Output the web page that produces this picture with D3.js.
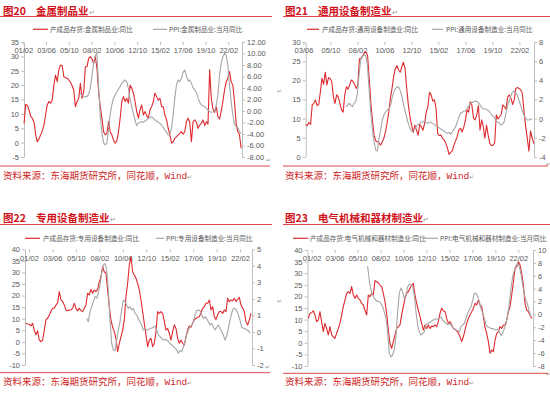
<!DOCTYPE html>
<html>
<head>
<meta charset="utf-8">
<script src="https://cdn.jsdelivr.net/npm/d3@7"></script>
<style>
    body { margin: 0; background: #fff; }
    svg { display: block; font-family: "Noto Sans CJK SC", "Noto Sans", sans-serif; }
</style>
</head>
<body>
<svg id="chart" width="550" height="394"></svg>
<script>
(function () {
    'use strict';

    // x tick labels (yy/mm), one every 28 months
    const xTickLabels = ['01/02', '03/06', '05/10', '08/02', '10/06', '12/10', '15/02', '17/06', '19/10', '22/02'];

    // y ticks
    const metalLeftTicks = [-5, 0, 5, 10, 15, 20, 25, 30, 35];
    const metalRightTicks = [-8, -6, -4, -2, 0, 2, 4, 6, 8, 10, 12];
    const generalLeftTicks = [0, 5, 10, 15, 20, 25, 30];
    const generalRightTicks = [-4, -2, 0, 2, 4, 6, 8];
    const specialLeftTicks = [-10, -5, 0, 5, 10, 15, 20, 25, 30, 35, 40];
    const specialRightTicks = [-2, -1, 0, 1, 2, 3, 4, 5];
    const electricLeftTicks = [-10, -5, 0, 5, 10, 15, 20, 25, 30, 35, 40];
    const electricRightTicks = [-8, -6, -4, -2, 0, 2, 4, 6, 8, 10];

    // first / last month of each series, as decimal years
    const metalInvSpan = [2001.16, 2023.40];
    const metalPpiSpan = [2006.92, 2023.40];
    const generalInvSpan = [2003.61, 2023.33];
    const generalPpiSpan = [2007.07, 2023.20];
    const specialInvSpan = [2000.78, 2023.17];
    const specialPpiSpan = [2006.82, 2023.07];
    const electricInvSpan = [2000.74, 2023.45];
    const electricPpiSpan = [2006.77, 2023.38];

    // 产成品存货 同比 (%), evenly spaced over the span
    const metalInvValues = [6.7, 13.3, 12.9, 11.4, 9.1, 8.5, 7.1, 2.9, 0.3, 1.3, 2.7, 4.1, 6.1, 9.6, 13.1, 14.3, 13.7, 14.8, 20.0, 23.5,
        21.2, 25.3, 27.0, 26.8, 22.9, 22.6, 22.4, 21.8, 21.0, 19.8, 18.3, 12.5, 14.3, 15.4, 20.6, 15.4, 17.7, 26.4, 26.4, 29.3,
        29.9, 29.1, 27.6, 29.9, 25.8, 17.7, 12.5, 8.5, 3.8, 2.7, 3.2, 7.3, 3.8, 2.7, 0.9, -0.2, 0.6, 3.8, 8.5, 14.3,
        16.0, 14.3, 15.4, 13.7, 20.0, 18.9, 17.2, 14.3, 10.8, 8.5, 11.4, 13.1, 9.6, 10.8, 9.4, 8.5, 11.4, 12.5, 14.3, 17.2,
        16.0, 14.8, 15.4, 12.5, 12.5, 9.6, 7.9, 5.0, 2.7, -0.2, 0.3, 1.5, 2.1, 2.7, 3.2, 3.8, 2.9, 3.8, 7.3, 8.5,
        7.1, 0.3, 7.3, 7.9, 7.1, 5.0, 6.1, 6.7, 7.9, 5.9, 7.3, 6.4, 25.3, 15.4, 11.7, 10.5, 12.5, 9.0, 8.2, 11.0,
        14.3, 18.3, 21.2, 22.4, 24.7, 21.2, 20.0, 14.3, 6.7, 3.8, 2.7, -2.0];
    const generalInvValues = [8.4, 8.2, 9.0, 8.5, 13.6, 14.0, 14.9, 13.4, 13.7, 17.0, 20.5, 19.0, 22.1, 18.8, 20.7, 20.5, 19.7, 15.7, 14.0, 16.2,
        15.7, 14.0, 12.3, 11.7, 16.3, 18.3, 17.7, 18.8, 20.1, 19.7, 19.0, 17.9, 18.8, 25.6, 25.7, 26.4, 27.0, 27.5, 26.4, 20.5,
        14.0, 9.4, 5.7, 4.2, 4.0, 3.6, 3.1, 4.0, 4.9, 6.6, 9.0, 11.8, 15.3, 17.9, 21.0, 23.1, 23.8, 22.7, 22.1, 23.6,
        24.7, 23.1, 17.9, 13.6, 10.5, 8.3, 6.4, 8.3, 7.0, 5.7, 8.5, 7.9, 7.0, 8.8, 11.7, 13.1, 16.9, 16.2, 14.6, 14.9,
        12.7, 6.2, 5.6, 5.7, 4.9, 4.4, 3.6, 2.3, 0.7, 1.2, 1.6, 3.1, 4.2, 5.3, 7.0, 7.5, 6.6, 7.7, 9.4, 12.3,
        11.7, 14.4, 13.6, 10.1, 9.7, 11.0, 13.4, 7.0, 9.7, 7.9, 4.9, 8.3, 5.7, 3.6, 3.0, 3.1, 3.6, 11.0, 9.9, 10.5,
        11.1, 13.6, 13.1, 12.5, 15.7, 16.2, 15.3, 13.7, 14.9, 17.9, 18.1, 17.9, 17.5, 16.6, 12.0, 8.0, 5.0, 1.5, 6.8, 5.0, 3.5];
    const specialInvValues = [8.0, 7.7, 7.6, 6.9, 8.0, 5.1, 3.0, 4.8, 0.8, 0.1, 0.8, 5.1, 9.5, 10.2, 11.6, 13.1, 14.5, 14.5, 15.9, 16.9,
        21.7, 18.1, 17.4, 15.9, 13.8, 13.5, 13.8, 13.8, 14.5, 16.7, 14.5, 13.5, 14.5, 13.5, 13.1, 14.5, 15.9, 21.0, 20.3, 22.7,
        21.0, 22.4, 21.7, 22.7, 26.0, 28.2, 32.5, 30.3, 29.6, 22.4, 15.2, 9.5, 6.3, 4.4, 1.5, -4.2, -0.6, 2.2, 5.1, 9.5,
        19.5, 25.3, 33.2, 36.8, 30.3, 28.9, 27.5, 25.3, 22.4, 18.1, 13.1, 8.0, 3.0, -2.1, 0.8, 1.5, -2.1, -0.6, 4.4, 13.1,
        12.3, 13.1, 12.3, 8.7, 5.1, 5.8, 3.7, 0.8, 4.4, 7.3, 5.8, 1.5, -0.6, 0.8, -0.6, -1.4, 2.2, 5.1, 6.9, 6.3,
        8.0, 9.5, 10.2, 10.6, 10.9, 12.6, 14.5, 15.2, 16.7, 16.7, 18.1, 13.8, 15.2, 10.9, 9.7, 11.6, 13.1, 13.1, 12.3, 13.8,
        13.1, 18.8, 17.4, 18.1, 17.8, 18.8, 17.4, 18.4, 19.2, 15.9, 14.5, 13.1, 8.7, 7.3, 9.5, 12.3];
    const electricInvValues = [10.5, 12.7, 13.0, 13.8, 12.0, 9.1, 9.8, 13.4, 9.1, 4.8, 8.4, 6.2, 3.4, 7.0, 3.4, 2.6, 1.9, 4.1, 6.2, 8.4,
        12.0, 15.6, 18.4, 21.3, 22.0, 21.3, 24.2, 20.6, 19.2, 20.6, 19.2, 18.4, 17.0, 16.3, 14.1, 12.0, 20.6, 19.9, 21.3, 20.6,
        26.8, 26.3, 25.9, 24.9, 24.2, 21.3, 17.7, 12.7, 5.5, -0.2, -2.4, 0.5, 3.4, 6.2, 7.0, 7.7, 12.0, 15.6, 19.2, 21.3,
        22.0, 23.5, 24.9, 25.6, 20.6, 17.0, 14.1, 11.3, 8.4, 5.5, 7.7, 6.2, 7.7, 6.2, 7.2, 7.0, 7.7, 7.0, 9.1, 12.7,
        14.9, 13.8, 13.4, 10.5, 8.4, 9.1, 7.7, 6.2, 5.8, 5.2, 4.1, 2.6, 0.5, 2.6, 5.5, 8.4, 10.5, 12.0, 13.4, 14.9,
        17.0, 16.3, 18.4, 16.3, 15.6, 11.3, 6.7, 4.1, 0.5, -4.5, -3.1, -3.8, 1.2, 4.1, 4.8, 7.0, 6.2, 7.7, 7.7, 9.8,
        13.4, 15.6, 20.6, 26.3, 32.1, 32.8, 35.0, 33.5, 29.9, 24.9, 17.0, 14.1, 13.4, 12.0, 10.5];

    // PPI 当月同比 (%), right axis
    const metalPpiValues = [3.07, 2.67, 2.49, 2.49, 2.49, 2.9, 3.94, 5.97, 8.29, 9.62, 10.03, 4.52, -0.7, -3.6, -5.45, -5.91, -5.62, -3.3, -0.7, 1.04,
        2.2, 2.78, 3.25, 3.83, 4.23, 4.81, 5.1, 5.39, 5.1, 3.94, 2.09, 0.75, -0.41, -1.57, -2.55, -2.14, -1.97, -1.85, -1.97, -1.74,
        -1.57, -1.28, -1.16, -0.99, -1.28, -1.57, -1.74, -1.97, -2.14, -2.43, -2.9, -3.3, -3.71, -4.17, -4.06, -3.01, -0.7, 2.2, 4.52, 5.39,
        5.1, 5.68, 6.72, 7.13, 6.14, 5.22, 5.39, 4.81, 4.06, 3.65, 3.25, 2.32, 1.51, 1.04, 0.93, 0.75, 0.46, 0.17, -0.12, -0.23,
        -0.12, 0.0, 1.04, 2.78, 6.26, 8.29, 9.45, 10.03, 9.62, 8.0, 4.52, 1.62, -0.7, -2.32, -2.72, -2.9, -3.6, -3.94];
    const generalPpiValues = [1.25, 1.36, 1.6, 1.43, 1.25, 1.6, 1.77, 2.64, 4.56, 6.12, 6.47, 6.64, 6.57, 5.6, 3.17, 0.73, -1.0, -2.4, -3.27, -3.37,
        -2.05, -1.18, -0.14, 0.38, 0.73, 0.9, 1.08, 1.43, 2.3, 2.82, 3.17, 3.34, 3.23, 2.82, 2.12, 1.25, 0.56, -0.14, -0.73, -1.18,
        -1.36, -1.18, -0.94, -0.66, -0.59, -0.38, -0.38, -0.24, -0.38, -0.49, -0.38, -0.38, -0.49, -0.59, -0.73, -0.83, -0.94, -1.08, -1.18, -1.29,
        -1.43, -1.53, -1.43, -1.64, -1.36, -1.08, -0.83, -0.38, 0.21, 0.56, 0.66, 0.8, 0.8, 1.08, 1.36, 1.6, 1.7, 1.77, 1.84, 1.77,
        1.6, 1.36, 1.08, 1.01, 1.01, 0.9, 0.8, 0.56, 0.31, 0.21, -0.14, -0.38, -0.38, -0.66, -0.59, -0.38, 0.38, 1.25, 1.77, 2.3,
        2.75, 2.89, 2.75, 2.47, 1.95, 1.43, 0.8, 0.38, 0.03, -0.14, -0.14, -0.03, -0.03];
    const specialPpiValues = [0.82, 0.62, 1.23, 1.53, 1.83, 2.14, 2.04, 2.34, 2.84, 3.55, 4.05, 4.15, 3.75, 2.54, 0.72, -0.69, -1.09, -1.13, -0.49, 0.12,
        0.62, 1.33, 1.93, 1.83, 1.63, 1.43, 1.53, 1.33, 1.43, 1.13, 1.03, 0.82, 0.62, 0.42, 0.12, 0.22, 0.12, 0.12, 0.22, 0.22,
        0.28, 0.36, 0.12, -0.18, -0.28, -0.39, -0.49, -0.45, -0.49, -0.59, -0.69, -0.79, -0.89, -0.99, -1.09, -1.29, -1.13, -1.19, -0.93, -0.59,
        -0.18, 0.12, 0.28, 0.42, 0.62, 1.03, 1.29, 1.33, 1.29, 1.03, 0.82, 0.92, 0.82, 0.62, 0.42, 0.52, 0.32, 0.12, 0.28, 0.42,
        0.22, 0.02, -0.18, -0.49, -0.28, 0.22, 0.72, 1.13, 1.43, 1.43, 1.29, 1.03, 0.72, 0.28, 0.22, 0.22, 0.12, 0.08, -0.08];
    const electricPpiValues = [7.5, 5.3, 3.8, 3.0, 2.5, 2.2, 2.0, 2.0, 1.7, 1.2, 0.4, -0.6, -2.7, -6.0, -6.6, -6.3, -5.5, -3.4, 0.4, 3.3,
        4.1, 3.5, 2.5, 3.0, 4.3, 4.7, 4.6, 4.3, 3.0, 0.4, -1.6, -2.7, -3.2, -2.9, -2.7, -1.6, -1.4, -1.3, -1.1, -0.9,
        -0.8, -0.6, -0.8, -0.6, -0.4, -0.9, -1.1, -1.4, -1.6, -1.4, -1.6, -2.0, -2.3, -2.4, -2.5, -2.7, -1.9, -1.6, -1.4, -0.6,
        0.2, 0.7, 1.2, 2.2, 3.3, 3.3, 2.8, 2.0, 0.9, 0.2, -0.6, -1.6, -1.9, -2.0, -2.2, -2.2, -2.3, -2.4, -2.3, -2.7,
        -3.3, -2.9, -2.2, -1.4, -0.1, 1.7, 4.1, 5.9, 6.9, 7.6, 8.0, 7.4, 6.2, 4.6, 3.0, 2.2, 1.5, 0.4, -0.3];

    const RED = '#de2a2f',
        GREY = '#a6a6a6',
        TITLE_RED = '#d0121b',
        AXIS_GREY = '#bfbfbf',
        TICK_TEXT = '#595959';

    const panels = [
        {
            fig: '图20', title: '金属制品业', ox: 0, titleY: 14.5, ruleY: 16.5, ruleX: [0, 272],
            left: 24, right: 242, top: 42, bottom: 157, years: [2001.155, 2023.49],
            xLabels: xTickLabels,
            yLeft: [-5, 35], leftTicks: metalLeftTicks, yRight: [-8, 12], rightTicks: metalRightTicks, rightFmt: d => d.toFixed(2),
            inv: { values: metalInvValues, span: metalInvSpan, name: '产成品存货:金属制品业:同比' },
            ppi: { values: metalPpiValues, span: metalPpiSpan, name: 'PPI:金属制品业:当月同比' },
            legendY: 29.3, legend: [33, 48, 50, 153, 167, 169],
            sourceLineY: 166, sourceY: 178.5, sourceX: 3,
            marks: [[266, 162]]
        },
        {
            fig: '图21', title: '通用设备制造业', ox: 282, titleY: 14.5, ruleY: 16.5, ruleX: [283, 550],
            left: 305.7, right: 534, top: 42, bottom: 157, years: [2003.61, 2023.35],
            xLabels: xTickLabels.slice(1),
            yLeft: [0, 30], leftTicks: generalLeftTicks, yRight: [-4, 8], rightTicks: generalRightTicks, rightFmt: d => String(d),
            inv: { values: generalInvValues, span: generalInvSpan, name: '产成品存货:通用设备制造业:同比' },
            ppi: { values: generalPpiValues, span: generalPpiSpan, name: 'PPI:通用设备制造业:当月同比' },
            legendY: 29.3, legend: [307, 319, 322, 432, 443, 446],
            sourceLineY: 166, sourceY: 178.5, sourceX: 285,
            marks: [[545.5, 165.5], [277, 93]]
        },
        {
            fig: '图22', title: '专用设备制造业', ox: 0, titleY: 221.5, ruleY: 224.5, ruleX: [0, 272],
            left: 25, right: 252, top: 249.3, bottom: 365, years: [2000.685, 2023.27],
            xLabels: xTickLabels,
            yLeft: [-10, 40], leftTicks: specialLeftTicks, yRight: [-2, 5], rightTicks: specialRightTicks, rightFmt: d => String(d),
            inv: { values: specialInvValues, span: specialInvSpan, name: '产成品存货:专用设备制造业:同比' },
            ppi: { values: specialPpiValues, span: specialPpiSpan, name: 'PPI:专用设备制造业:当月同比' },
            legendY: 238.3, legend: [25, 40, 43, 156, 164, 166],
            sourceLineY: 372.7, sourceY: 384.5, sourceX: 3,
            marks: [[265, 369]]
        },
        {
            fig: '图23', title: '电气机械和器材制造业', ox: 282, titleY: 221.5, ruleY: 224.5, ruleX: [283, 550],
            left: 307.5, right: 533, top: 250, bottom: 366, years: [2000.66, 2023.58],
            xLabels: xTickLabels,
            yLeft: [-10, 40], leftTicks: electricLeftTicks, yRight: [-8, 10], rightTicks: electricRightTicks, rightFmt: d => String(d),
            inv: { values: electricInvValues, span: electricInvSpan, name: '产成品存货:电气机械和器材制造业:同比' },
            ppi: { values: electricPpiValues, span: electricPpiSpan, name: 'PPI:电气机械和器材制造业:当月同比' },
            legendY: 238.3, legend: [293, 308, 310, 423, 438, 440],
            sourceLineY: 373.3, sourceY: 385, sourceX: 285,
            marks: [[545.5, 375.5], [277, 303]]
        }
    ];

    const svg = d3.select('#chart');

    function labelToYear(label) {
        const parts = label.split('/');
        return 2000 + (+parts[0]) + (+parts[1] - 1) / 12;
    }

    function drawPanel(p) {
        const g = svg.append('g').attr('class', 'panel');

        // title + red rule under it
        const title = g.append('text')
            .attr('x', p.ox + 3)
            .attr('y', p.titleY)
            .attr('fill', TITLE_RED)
            .style('font-size', '10.5px')
            .style('font-weight', 'bold');
        title.append('tspan').text(p.fig);
        title.append('tspan').attr('x', p.ox + 36).text(p.title);
        title.append('tspan').attr('fill', '#999').style('font-size', '7px').style('font-weight', 'normal').text('↵');

        g.append('line')
            .attr('x1', p.ruleX[0]).attr('x2', p.ruleX[1])
            .attr('y1', p.ruleY).attr('y2', p.ruleY)
            .attr('stroke', '#e0484d').attr('stroke-width', 1);

        const x = d3.scaleLinear().domain(p.years).range([p.left, p.right]);
        const yL = d3.scaleLinear().domain(p.yLeft).range([p.bottom, p.top]);
        const yR = d3.scaleLinear().domain(p.yRight).range([p.bottom, p.top]);

        // axes
        const leftAxis = g.append('g')
            .attr('transform', `translate(${p.left},0)`)
            .call(d3.axisLeft(yL).tickValues(p.leftTicks).tickSize(3).tickSizeOuter(0).tickPadding(2).tickFormat(d => String(d)));
        const rightAxis = g.append('g')
            .attr('transform', `translate(${p.right},0)`)
            .call(d3.axisRight(yR).tickValues(p.rightTicks).tickSize(3).tickSizeOuter(0).tickPadding(2).tickFormat(p.rightFmt));
        const topAxis = g.append('g')
            .attr('transform', `translate(0,${p.top})`)
            .call(d3.axisBottom(x).tickValues(p.xLabels.map(labelToYear)).tickSize(3).tickPadding(3)
                .tickFormat((d, i) => p.xLabels[i]));
        topAxis.select('.domain').remove();

        [leftAxis, rightAxis, topAxis].forEach(a => {
            a.selectAll('.domain, line').attr('stroke', AXIS_GREY);
            a.selectAll('text')
                .attr('fill', TICK_TEXT)
                .style('font-family', '"Liberation Sans", Arial, sans-serif')
                .style('font-size', '7.5px');
        });

        // series
        function seriesLine(series, yScale) {
            const t = d3.scaleLinear().domain([0, series.values.length - 1]).range(series.span);
            return d3.line()
                .x((d, i) => x(t(i)))
                .y(d => yScale(d))(series.values);
        }

        g.append('path')
            .attr('d', seriesLine(p.inv, yL))
            .attr('fill', 'none').attr('stroke', RED).attr('stroke-width', 1.1)
            .attr('stroke-linejoin', 'round');
        g.append('path')
            .attr('d', seriesLine(p.ppi, yR))
            .attr('fill', 'none').attr('stroke', GREY).attr('stroke-width', 1.1)
            .attr('stroke-linejoin', 'round');

        // legend
        const lg = g.append('g').style('font-size', '6.6px').attr('fill', TICK_TEXT);
        lg.append('line').attr('x1', p.legend[0]).attr('x2', p.legend[1]).attr('y1', p.legendY).attr('y2', p.legendY)
            .attr('stroke', RED).attr('stroke-width', 1.2);
        lg.append('text').attr('x', p.legend[2]).attr('y', p.legendY + 2.3).text(p.inv.name);
        lg.append('line').attr('x1', p.legend[3]).attr('x2', p.legend[4]).attr('y1', p.legendY).attr('y2', p.legendY)
            .attr('stroke', GREY).attr('stroke-width', 1.2);
        lg.append('text').attr('x', p.legend[5]).attr('y', p.legendY + 2.3).text(p.ppi.name);

        // little paragraph marks Word leaves behind
        g.selectAll('text.mark')
            .data(p.marks)
            .enter()
            .append('text')
            .attr('class', 'mark')
            .attr('x', d => d[0]).attr('y', d => d[1])
            .attr('fill', '#999').style('font-size', '5.5px').text('↵');

        // source
        g.append('line')
            .attr('x1', p.ruleX[0]).attr('x2', p.ruleX[1] - 2)
            .attr('y1', p.sourceLineY).attr('y2', p.sourceLineY)
            .attr('stroke', '#e0484d').attr('stroke-width', 1);
        const src = g.append('text')
            .attr('x', p.sourceX).attr('y', p.sourceY)
            .attr('fill', '#cc1f1f')
            .style('font-size', '9.5px');
        src.append('tspan').text('资料来源：东海期货研究所，同花顺，');
        src.append('tspan').style('font-family', '"Liberation Mono", "DejaVu Sans Mono", monospace').text('Wind');
        src.append('tspan').attr('fill', '#999').style('font-size', '6px').text('↵');
    }

    panels.forEach(drawPanel);
})();
</script>
</body>
</html>
